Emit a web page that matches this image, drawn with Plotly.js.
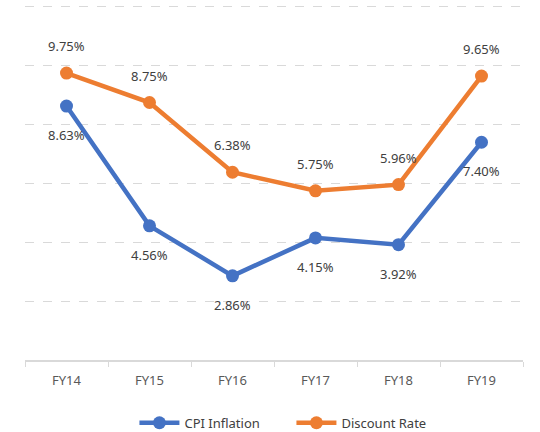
<!DOCTYPE html>
<html><head><meta charset="utf-8">
<script src="https://cdn.plot.ly/plotly-3.0.1.min.js"></script>
<style>html,body{margin:0;padding:0;background:#fff}#chart{width:540px;height:432px}</style>
</head><body><div id="chart"></div>
<script>
const categories = ["FY14","FY15","FY16","FY17","FY18","FY19"];
const cpiInflation = [8.63, 4.56, 2.86, 4.15, 3.92, 7.40];
const discountRate = [9.75, 8.75, 6.38, 5.75, 5.96, 9.65];
const seriesNames = ["CPI Inflation", "Discount Rate"];
const colors = ["#4472C4", "#ED7D31"];
const fnt = "Noto Sans, Open Sans, sans-serif";

const traces = [
  {x: categories, y: cpiInflation, name: seriesNames[0], type: "scatter", mode: "lines+markers",
   line: {color: colors[0], width: 4.5}, marker: {color: colors[0], size: 13}},
  {x: categories, y: discountRate, name: seriesNames[1], type: "scatter", mode: "lines+markers",
   line: {color: colors[1], width: 4.5}, marker: {color: colors[1], size: 13}}
];
const fmt = v => v.toFixed(2) + "%";
const annotations = [];
categories.forEach((c, i) => {
  annotations.push({x: c, y: cpiInflation[i], text: fmt(cpiInflation[i]), showarrow: false, yshift: -29,
    font: {family: fnt, size: 13, color: "#404040"}});
  annotations.push({x: c, y: discountRate[i], text: fmt(discountRate[i]), showarrow: false, yshift: 27,
    font: {family: fnt, size: 13, color: "#404040"}});
});
const layout = {
  width: 540, height: 432,
  margin: {l: 25, r: 17, t: 1, b: 72, autoexpand: false},
  paper_bgcolor: "#fff", plot_bgcolor: "#fff",
  font: {family: fnt, size: 13, color: "#595959"},
  showlegend: true,
  legend: {orientation: "h", x: 0.535, xanchor: "center", y: -0.175, yanchor: "middle",
    font: {family: fnt, size: 13, color: "#404040"}, itemwidth: 40, entrywidth: 102},
  xaxis: {type: "category", range: [-0.5, 5.5], showgrid: false, showline: true, linecolor: "#d9d9d9", linewidth: 1.5,
    ticks: "outside", tickson: "boundaries", ticklen: 5, tickcolor: "#d9d9d9", zeroline: false,
    ticklabelstandoff: 8, tickfont: {family: fnt, size: 13, color: "#595959"}},
  yaxis: {range: [0, 12.2], tickvals: [2,4,6,8,10,12], showticklabels: false, showgrid: true, gridcolor: "#d9d9d9",
    griddash: "dash", gridwidth: 1, zeroline: false, showline: false, ticks: ""},
  annotations: annotations
};
Plotly.newPlot("chart", traces, layout, {displayModeBar: false, staticPlot: true});
</script></body></html>
